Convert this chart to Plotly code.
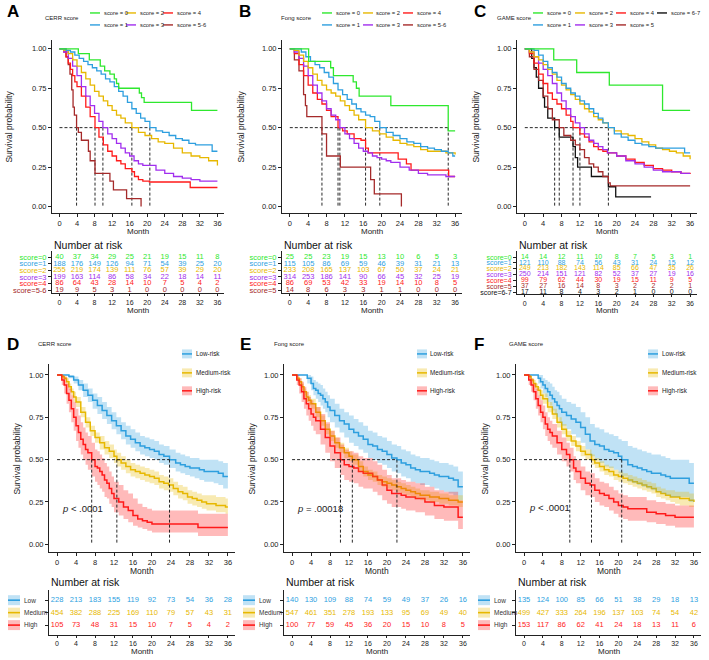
import plotly.graph_objects as go

W, H = 709, 660
FONT = "Liberation Sans, Arial, sans-serif"
MONTHS = [0, 4, 8, 12, 16, 20, 24, 28, 32, 36]

GREEN = "#2EE82E"
BLUE = "#2E9FDF"
ORANGE = "#E7B800"
PURPLE = "#A12EEE"
RED = "#FF1A1A"
BROWN = "#A52A2A"
BLACK = "#111111"

# ---------------- A: CERR score (step points: month, survival) ----------------
cerr0_t = [0, 4.3, 6.8, 9.3, 10.3, 11.5, 12.5, 13.0, 13.5, 18.2, 18.7, 19.3, 30.1, 36]
cerr0_s = [1, 0.97, 0.93, 0.89, 0.86, 0.84, 0.81, 0.78, 0.75, 0.72, 0.69, 0.66, 0.61, 0.61]
cerr1_t = [0, 1.5, 2.5, 3.5, 4.5, 5.5, 6.5, 7.5, 8.5, 9.5, 10.5, 11.5, 12.5, 13.5, 14.5, 15.5,
           16.5, 17.5, 18.5, 19.5, 20.6, 22, 23.5, 25, 26.5, 28, 29.5, 31, 33, 34.8, 36]
cerr1_s = [1, 0.99, 0.98, 0.96, 0.94, 0.92, 0.90, 0.88, 0.86, 0.84, 0.81, 0.79, 0.76, 0.73, 0.70,
           0.66, 0.62, 0.59, 0.56, 0.54, 0.50, 0.48, 0.47, 0.45, 0.43, 0.42, 0.40, 0.39, 0.39, 0.35, 0.35]
cerr2_t = [0, 1, 2, 3, 4, 5, 6, 7, 8, 9, 10, 11, 12, 13, 14, 15, 16.5, 18, 19.5, 21, 22.5, 24,
           26, 28, 30, 32, 34, 36]
cerr2_s = [1, 0.99, 0.97, 0.93, 0.89, 0.85, 0.81, 0.77, 0.73, 0.70, 0.67, 0.64, 0.61, 0.58, 0.56,
           0.53, 0.50, 0.47, 0.45, 0.43, 0.41, 0.40, 0.37, 0.34, 0.32, 0.31, 0.29, 0.26]
cerr3_t = [0, 1, 2, 3, 4, 5, 6, 7, 8, 9, 9.9, 11, 12, 13, 14, 15, 16, 17, 18, 19, 20, 22, 24,
           26, 28, 30, 32, 34, 36]
cerr3_s = [1, 0.98, 0.94, 0.89, 0.83, 0.76, 0.70, 0.64, 0.59, 0.54, 0.50, 0.46, 0.43, 0.40, 0.37,
           0.34, 0.32, 0.29, 0.27, 0.26, 0.26, 0.23, 0.21, 0.19, 0.18, 0.17, 0.16, 0.16, 0.16]
cerr4_t = [0, 1, 1.5, 2, 2.5, 3, 3.5, 4, 5, 6, 7, 8.1, 9, 10, 11, 12, 13, 14, 15, 16.5, 17.1,
           18, 19, 20.5, 29.8, 36]
cerr4_s = [1, 0.98, 0.95, 0.91, 0.87, 0.83, 0.79, 0.76, 0.70, 0.63, 0.57, 0.50, 0.44, 0.39, 0.35,
           0.32, 0.29, 0.27, 0.24, 0.22, 0.19, 0.17, 0.16, 0.155, 0.12, 0.12]
cerr56_t = [0, 1.5, 2.0, 2.4, 2.8, 3.1, 3.4, 3.9, 4.3, 5.0, 6.6, 7.0, 8.1, 11.5, 12.3, 15.3, 18.6]
cerr56_s = [1, 0.95, 0.90, 0.84, 0.74, 0.63, 0.58, 0.50, 0.47, 0.42, 0.35, 0.29, 0.21, 0.16, 0.105,
            0.05, 0.0]
cerr_medians = [3.9, 8.1, 9.9, 16.5, 20.6]

cerr_risk0 = [40, 37, 34, 29, 25, 21, 19, 15, 11, 8]
cerr_risk1 = [188, 176, 149, 126, 94, 71, 54, 39, 25, 20]
cerr_risk2 = [255, 219, 174, 139, 111, 76, 57, 39, 29, 20]
cerr_risk3 = [199, 163, 114, 86, 58, 34, 22, 18, 14, 11]
cerr_risk4 = [86, 64, 43, 28, 14, 10, 7, 5, 4, 2]
cerr_risk56 = [19, 9, 5, 3, 1, 0, 0, 0, 0, 0]

# ---------------- B: Fong score ----------------
fong0_t = [0, 4.1, 8.9, 9.5, 13.8, 14.5, 15.1, 22.0, 34.5, 36]
fong0_s = [1, 0.92, 0.88, 0.83, 0.79, 0.75, 0.70, 0.64, 0.48, 0.48]
fong1_t = [0, 2.5, 3.5, 4.5, 5.5, 6.5, 7.5, 8.5, 9.5, 10.5, 11.5, 12.5, 13.5, 14.5, 15.5, 16.5,
           17.5, 18.5, 19.6, 21, 22.5, 24, 25.5, 27, 28.5, 30, 31.5, 33, 34.5, 35.5, 36]
fong1_s = [1, 0.98, 0.95, 0.92, 0.90, 0.88, 0.85, 0.82, 0.78, 0.74, 0.71, 0.68, 0.65, 0.62, 0.60,
           0.58, 0.57, 0.54, 0.50, 0.47, 0.45, 0.43, 0.41, 0.40, 0.38, 0.37, 0.36, 0.35, 0.34, 0.32, 0.32]
fong2_t = [0, 1, 2, 3, 4, 5, 6, 7, 8, 9, 10, 11, 12, 13, 14, 15, 16.5, 18, 19.5, 21, 22.5, 24,
           25.5, 27, 28.5, 30, 32, 34, 36]
fong2_s = [1, 0.99, 0.96, 0.92, 0.88, 0.84, 0.80, 0.77, 0.74, 0.72, 0.70, 0.67, 0.64, 0.61, 0.58,
           0.55, 0.50, 0.48, 0.46, 0.44, 0.42, 0.40, 0.39, 0.38, 0.36, 0.35, 0.35, 0.34, 0.33]
fong3_t = [0, 1, 2, 3, 4, 5, 6, 7, 8, 9, 10, 10.9, 12, 13, 14, 15, 16, 17, 18, 19, 20, 21, 22,
           24, 26, 28, 30, 32, 34, 36]
fong3_s = [1, 0.98, 0.94, 0.89, 0.83, 0.77, 0.72, 0.67, 0.62, 0.58, 0.55, 0.50, 0.46, 0.43, 0.40,
           0.37, 0.35, 0.34, 0.32, 0.31, 0.30, 0.29, 0.28, 0.25, 0.23, 0.21, 0.20, 0.20, 0.19, 0.19]
fong4_t = [0, 1, 2, 3, 4, 5, 6, 7, 8, 9, 10.5, 11.5, 12.5, 14, 15.5, 16.5, 17.1, 23.6, 25.4,
           26.4, 34.6, 36]
fong4_s = [1, 0.97, 0.90, 0.83, 0.77, 0.72, 0.68, 0.65, 0.61, 0.57, 0.50, 0.48, 0.46, 0.43, 0.42,
           0.37, 0.34, 0.30, 0.27, 0.23, 0.19, 0.19]
fong5_t = [0, 1.0, 2.0, 3.0, 3.4, 3.7, 7.0, 8.0, 11.0, 17.6, 18.4, 24.3]
fong5_s = [1, 0.93, 0.86, 0.71, 0.64, 0.57, 0.46, 0.32, 0.25, 0.17, 0.08, 0.0]
fong_medians = [7.0, 10.5, 10.9, 16.5, 19.6, 34.5]

fong_risk0 = [25, 25, 23, 19, 15, 13, 10, 6, 5, 3]
fong_risk1 = [115, 105, 86, 69, 59, 46, 39, 31, 21, 13]
fong_risk2 = [233, 208, 165, 137, 103, 67, 50, 37, 24, 21]
fong_risk3 = [314, 253, 186, 141, 90, 66, 45, 32, 25, 19]
fong_risk4 = [86, 69, 53, 42, 33, 19, 14, 10, 8, 5]
fong_risk5 = [14, 8, 6, 3, 3, 1, 1, 0, 0, 0]

# ---------------- C: GAME score ----------------
game0_t = [0, 6.3, 11.3, 18.4, 30.0, 36]
game0_s = [1, 0.93, 0.85, 0.77, 0.61, 0.61]
game1_t = [0, 2, 3, 4, 5, 6, 7, 8, 9, 10, 11, 12, 13, 14, 15, 16, 17, 18.2, 19.5, 21, 22.5, 24,
           25.5, 27, 28.5, 30, 31.5, 33, 34.8, 36]
game1_s = [1, 0.99, 0.96, 0.92, 0.88, 0.85, 0.82, 0.78, 0.75, 0.72, 0.70, 0.67, 0.65, 0.62, 0.59,
           0.56, 0.53, 0.50, 0.46, 0.44, 0.42, 0.40, 0.39, 0.38, 0.37, 0.37, 0.37, 0.37, 0.34, 0.34]
game2_t = [0, 1, 2, 3, 4, 5, 6, 7, 8, 9, 10, 11, 12, 13, 14, 15, 16, 17, 18.2, 19.5, 21, 22.5,
           24, 25.5, 27, 28.5, 30, 31.5, 33, 34.5, 36]
game2_s = [1, 0.98, 0.95, 0.93, 0.90, 0.87, 0.84, 0.80, 0.77, 0.74, 0.71, 0.68, 0.65, 0.62, 0.60,
           0.57, 0.55, 0.53, 0.50, 0.48, 0.46, 0.45, 0.43, 0.41, 0.39, 0.37, 0.36, 0.35, 0.34, 0.32, 0.30]
game3_t = [0, 1, 2, 3, 4, 5, 6, 7, 8, 9, 10, 11, 12, 13, 14, 15, 16, 17, 18, 20, 22, 24, 26, 28,
           30, 32, 34, 36]
game3_s = [1, 0.98, 0.95, 0.91, 0.87, 0.83, 0.78, 0.72, 0.67, 0.62, 0.57, 0.53, 0.50, 0.46, 0.42,
           0.40, 0.38, 0.36, 0.34, 0.32, 0.29, 0.27, 0.25, 0.23, 0.22, 0.22, 0.21, 0.21]
game4_t = [0, 1, 2, 3, 4, 5, 6, 7, 8, 9, 10, 10.5, 12, 13, 14, 15, 16, 17, 18, 20, 22, 24, 26,
           28, 30, 32, 34, 36]
game4_s = [1, 0.97, 0.91, 0.84, 0.78, 0.72, 0.68, 0.65, 0.62, 0.58, 0.54, 0.50, 0.46, 0.44, 0.41,
           0.38, 0.36, 0.35, 0.34, 0.32, 0.30, 0.28, 0.26, 0.24, 0.23, 0.22, 0.21, 0.205]
game5_t = [0, 1, 2, 3, 4, 5, 6, 7.5, 8.5, 10, 11, 12, 13, 14, 15, 16, 17, 18.2, 18.6, 36]
game5_s = [1, 0.95, 0.87, 0.80, 0.70, 0.62, 0.55, 0.50, 0.45, 0.42, 0.39, 0.36, 0.31, 0.27, 0.25,
           0.22, 0.19, 0.15, 0.13, 0.13]
game67_t = [0, 1.5, 2.0, 2.5, 3.0, 4.0, 4.3, 5.0, 6.5, 7.5, 10.5, 11.0, 11.5, 14.5, 18.2, 19.8, 27.5]
game67_s = [1, 0.94, 0.88, 0.82, 0.75, 0.69, 0.63, 0.56, 0.50, 0.44, 0.38, 0.31, 0.25, 0.19, 0.125,
            0.06, 0.06]
game_medians = [6.5, 7.5, 10.5, 12.0, 18.2]

game_risk0 = [14, 14, 12, 11, 10, 8, 7, 5, 3, 1]
game_risk1 = [121, 110, 88, 74, 56, 43, 31, 24, 15, 12]
game_risk2 = [249, 213, 182, 143, 114, 85, 66, 47, 35, 26]
game_risk3 = [250, 214, 151, 121, 82, 52, 37, 27, 19, 16]
game_risk4 = [99, 79, 62, 44, 30, 19, 15, 11, 9, 5]
game_risk5 = [37, 27, 16, 14, 8, 3, 2, 2, 2, 1]
game_risk67 = [17, 11, 8, 4, 3, 2, 1, 0, 0, 0]

# ---------------- D: CERR risk groups (step, lower CI, upper CI) ----------------
d_low_t = [0, 2.5, 3.5, 4.5, 5.5, 6.5, 7.5, 8.5, 9.5, 10.5, 11.5, 12.5, 13.5, 14.5, 15.5, 16.5,
           17.5, 18.5, 19.5, 20.5, 21.5, 22.5, 23.7, 25, 26, 27, 28, 29, 30, 31, 32, 33, 34, 35, 36]
d_low_s = [1, 0.99, 0.97, 0.94, 0.91, 0.88, 0.85, 0.82, 0.79, 0.76, 0.73, 0.70, 0.67, 0.64, 0.62,
           0.60, 0.58, 0.57, 0.56, 0.55, 0.53, 0.52, 0.50, 0.48, 0.47, 0.46, 0.45, 0.45, 0.44, 0.43,
           0.43, 0.43, 0.42, 0.40, 0.40]
d_low_lo = [1, 0.98, 0.95, 0.91, 0.87, 0.84, 0.80, 0.77, 0.74, 0.71, 0.68, 0.65, 0.62, 0.59, 0.57,
            0.55, 0.53, 0.52, 0.51, 0.50, 0.48, 0.47, 0.45, 0.43, 0.42, 0.41, 0.40, 0.39, 0.38, 0.37,
            0.37, 0.36, 0.35, 0.33, 0.33]
d_low_hi = [1, 1.0, 0.99, 0.97, 0.95, 0.92, 0.89, 0.87, 0.84, 0.81, 0.78, 0.75, 0.72, 0.70, 0.68,
            0.66, 0.64, 0.63, 0.62, 0.61, 0.59, 0.58, 0.56, 0.54, 0.53, 0.52, 0.51, 0.51, 0.50, 0.50,
            0.50, 0.50, 0.49, 0.48, 0.48]
d_med_t = [0, 1, 1.5, 2, 2.5, 3, 3.5, 4, 5, 6, 7, 8, 9, 10, 11, 12, 12.6, 13.5, 14.5, 15.5, 16.5,
           17.5, 18.5, 19.5, 20.5, 21.5, 22.5, 23.5, 24.5, 25.5, 26.5, 27.5, 28.5, 29.5, 30.5, 31.5,
           32.5, 33.5, 34.5, 35.5, 36]
d_med_s = [1, 0.99, 0.98, 0.96, 0.93, 0.90, 0.87, 0.84, 0.78, 0.72, 0.67, 0.63, 0.60, 0.57, 0.55,
           0.52, 0.50, 0.48, 0.46, 0.44, 0.43, 0.42, 0.41, 0.40, 0.39, 0.37, 0.36, 0.35, 0.33, 0.31,
           0.30, 0.28, 0.27, 0.26, 0.25, 0.24, 0.24, 0.23, 0.23, 0.22, 0.22]
d_med_lo = [1, 0.98, 0.97, 0.94, 0.91, 0.88, 0.84, 0.81, 0.75, 0.69, 0.64, 0.60, 0.56, 0.53, 0.51,
            0.48, 0.46, 0.44, 0.42, 0.40, 0.39, 0.38, 0.37, 0.36, 0.35, 0.33, 0.32, 0.31, 0.29, 0.27,
            0.26, 0.24, 0.23, 0.22, 0.21, 0.20, 0.20, 0.19, 0.19, 0.18, 0.18]
d_med_hi = [1, 1.0, 0.99, 0.98, 0.95, 0.92, 0.90, 0.87, 0.81, 0.75, 0.70, 0.66, 0.64, 0.61, 0.59,
            0.56, 0.54, 0.52, 0.50, 0.48, 0.47, 0.46, 0.45, 0.44, 0.43, 0.41, 0.40, 0.39, 0.37, 0.35,
            0.34, 0.32, 0.31, 0.30, 0.29, 0.29, 0.29, 0.28, 0.28, 0.27, 0.27]
d_high_t = [0, 1, 1.5, 2, 2.5, 3, 3.5, 4, 4.5, 5, 5.5, 6, 6.5, 7.3, 8, 8.5, 9, 9.5, 10, 10.5, 11,
            11.5, 12, 13, 14, 15, 16, 17, 18, 19, 20, 29.7, 36]
d_high_s = [1, 0.97, 0.94, 0.89, 0.85, 0.80, 0.75, 0.70, 0.66, 0.62, 0.59, 0.56, 0.54, 0.50, 0.46,
            0.45, 0.43, 0.41, 0.38, 0.36, 0.33, 0.30, 0.27, 0.25, 0.22, 0.20, 0.17, 0.15, 0.14, 0.13,
            0.12, 0.10, 0.10]
d_high_lo = [1, 0.94, 0.89, 0.83, 0.78, 0.72, 0.67, 0.61, 0.57, 0.53, 0.50, 0.47, 0.44, 0.40, 0.37,
             0.35, 0.33, 0.31, 0.28, 0.27, 0.24, 0.22, 0.19, 0.17, 0.15, 0.13, 0.11, 0.10, 0.09, 0.08,
             0.07, 0.05, 0.05]
d_high_hi = [1, 1.0, 0.99, 0.95, 0.92, 0.88, 0.84, 0.80, 0.76, 0.72, 0.69, 0.66, 0.64, 0.60, 0.56,
             0.55, 0.53, 0.51, 0.48, 0.46, 0.43, 0.40, 0.37, 0.35, 0.32, 0.30, 0.27, 0.24, 0.22, 0.21,
             0.20, 0.18, 0.18]
d_medians = [7.3, 12.6, 23.7]
d_risk_low = [228, 213, 183, 155, 119, 92, 73, 54, 36, 28]
d_risk_med = [454, 382, 288, 225, 169, 110, 79, 57, 43, 31]
d_risk_high = [105, 73, 48, 31, 15, 10, 7, 5, 4, 2]

# ---------------- E: Fong risk groups ----------------
e_low_t = [0, 3.2, 4, 4.5, 5, 5.5, 6, 6.5, 7, 7.5, 8, 9, 10, 11, 12, 13, 14, 15, 16, 17, 18, 19,
           20, 21, 22.1, 23, 24, 25, 26, 27, 28, 29, 30, 31, 32, 33, 34, 35, 36]
e_low_s = [1, 0.98, 0.95, 0.92, 0.91, 0.89, 0.88, 0.86, 0.84, 0.81, 0.79, 0.76, 0.73, 0.71, 0.68,
           0.66, 0.64, 0.62, 0.59, 0.58, 0.56, 0.55, 0.53, 0.51, 0.50, 0.48, 0.47, 0.45, 0.44, 0.43,
           0.43, 0.42, 0.41, 0.40, 0.40, 0.39, 0.38, 0.34, 0.34]
e_low_lo = [1, 0.95, 0.91, 0.88, 0.86, 0.84, 0.82, 0.80, 0.78, 0.75, 0.72, 0.69, 0.66, 0.63, 0.60,
            0.58, 0.56, 0.54, 0.51, 0.50, 0.48, 0.47, 0.45, 0.43, 0.42, 0.40, 0.39, 0.37, 0.36, 0.35,
            0.35, 0.34, 0.33, 0.32, 0.31, 0.30, 0.29, 0.26, 0.26]
e_low_hi = [1, 1.0, 0.99, 0.97, 0.96, 0.95, 0.94, 0.92, 0.90, 0.88, 0.86, 0.83, 0.80, 0.78, 0.76,
            0.74, 0.72, 0.70, 0.67, 0.66, 0.64, 0.63, 0.61, 0.59, 0.58, 0.56, 0.55, 0.53, 0.52, 0.51,
            0.51, 0.50, 0.49, 0.48, 0.48, 0.47, 0.46, 0.43, 0.43]
e_med_t = [0, 1, 1.5, 2, 2.5, 3, 3.5, 4, 5, 6, 7, 8, 9, 10, 11, 12, 12.7, 14, 15, 16, 17, 18, 19,
           20, 21, 22, 23, 24, 25, 26, 27, 28, 29, 30, 31, 32, 33, 34, 35, 36]
e_med_s = [1, 0.98, 0.96, 0.93, 0.90, 0.87, 0.85, 0.83, 0.78, 0.73, 0.68, 0.64, 0.60, 0.57, 0.54,
           0.52, 0.50, 0.46, 0.43, 0.41, 0.40, 0.38, 0.37, 0.36, 0.35, 0.34, 0.33, 0.32, 0.31, 0.30,
           0.29, 0.29, 0.28, 0.28, 0.27, 0.27, 0.26, 0.26, 0.25, 0.25]
e_med_lo = [1, 0.97, 0.94, 0.91, 0.88, 0.84, 0.82, 0.80, 0.75, 0.70, 0.65, 0.61, 0.57, 0.54, 0.51,
            0.49, 0.47, 0.43, 0.40, 0.38, 0.37, 0.35, 0.34, 0.33, 0.32, 0.31, 0.30, 0.29, 0.28, 0.27,
            0.26, 0.26, 0.25, 0.25, 0.24, 0.24, 0.23, 0.23, 0.22, 0.22]
e_med_hi = [1, 0.99, 0.98, 0.95, 0.92, 0.90, 0.88, 0.86, 0.81, 0.76, 0.71, 0.67, 0.63, 0.60, 0.57,
            0.55, 0.53, 0.49, 0.46, 0.44, 0.43, 0.41, 0.40, 0.39, 0.38, 0.37, 0.36, 0.35, 0.34, 0.33,
            0.32, 0.32, 0.31, 0.31, 0.30, 0.30, 0.29, 0.29, 0.29, 0.29]
e_high_t = [0, 1, 1.5, 2, 2.5, 3, 3.5, 4, 4.5, 5, 6, 7, 8, 9, 10.2, 11, 12, 13, 14, 15, 16, 17,
            18, 19, 20, 21, 22, 23, 24, 26, 28, 30, 32, 34, 35, 36]
e_high_s = [1, 0.97, 0.94, 0.90, 0.86, 0.83, 0.80, 0.77, 0.75, 0.73, 0.68, 0.63, 0.58, 0.54, 0.50,
            0.47, 0.46, 0.45, 0.43, 0.42, 0.42, 0.40, 0.38, 0.35, 0.32, 0.30, 0.30, 0.29, 0.28, 0.27,
            0.25, 0.23, 0.22, 0.22, 0.16, 0.16]
e_high_lo = [1, 0.94, 0.89, 0.84, 0.80, 0.76, 0.73, 0.70, 0.67, 0.65, 0.59, 0.54, 0.49, 0.45, 0.41,
             0.38, 0.37, 0.36, 0.34, 0.33, 0.33, 0.31, 0.29, 0.26, 0.24, 0.22, 0.22, 0.21, 0.20, 0.19,
             0.17, 0.15, 0.14, 0.14, 0.09, 0.09]
e_high_hi = [1, 1.0, 0.98, 0.96, 0.93, 0.90, 0.87, 0.85, 0.83, 0.81, 0.77, 0.72, 0.67, 0.63, 0.59,
             0.56, 0.55, 0.54, 0.52, 0.51, 0.51, 0.49, 0.47, 0.44, 0.41, 0.39, 0.39, 0.38, 0.37, 0.36,
             0.34, 0.32, 0.31, 0.31, 0.26, 0.26]
e_medians = [10.2, 12.7, 22.1]
e_risk_low = [140, 130, 109, 88, 74, 59, 49, 37, 26, 16]
e_risk_med = [547, 461, 351, 278, 193, 133, 95, 69, 49, 40]
e_risk_high = [100, 77, 59, 45, 36, 20, 15, 10, 8, 5]

# ---------------- F: GAME risk groups ----------------
f_low_t = [0, 3.0, 3.5, 4, 4.5, 5, 5.5, 6, 6.5, 7, 7.5, 8, 9, 10, 11, 12, 13, 14, 15, 16, 17, 18,
           19, 20, 20.7, 22, 23, 24, 25, 26, 27, 28, 29, 30, 31, 32, 33, 34, 35, 36]
f_low_s = [1, 0.98, 0.96, 0.94, 0.92, 0.90, 0.88, 0.86, 0.84, 0.82, 0.80, 0.78, 0.76, 0.74, 0.72,
           0.69, 0.65, 0.61, 0.59, 0.58, 0.56, 0.55, 0.54, 0.52, 0.50, 0.47, 0.46, 0.45, 0.44, 0.43,
           0.42, 0.42, 0.41, 0.40, 0.39, 0.39, 0.39, 0.39, 0.36, 0.36]
f_low_lo = [1, 0.95, 0.92, 0.89, 0.87, 0.84, 0.82, 0.79, 0.77, 0.75, 0.72, 0.70, 0.68, 0.65, 0.63,
            0.60, 0.56, 0.52, 0.50, 0.48, 0.46, 0.45, 0.44, 0.42, 0.40, 0.37, 0.36, 0.35, 0.34, 0.33,
            0.32, 0.31, 0.30, 0.29, 0.28, 0.28, 0.28, 0.28, 0.25, 0.25]
f_low_hi = [1, 1.0, 1.0, 0.98, 0.97, 0.96, 0.95, 0.93, 0.91, 0.90, 0.88, 0.86, 0.84, 0.83, 0.81,
            0.78, 0.75, 0.71, 0.69, 0.68, 0.66, 0.65, 0.64, 0.62, 0.61, 0.58, 0.57, 0.56, 0.55, 0.54,
            0.53, 0.53, 0.52, 0.51, 0.50, 0.50, 0.50, 0.50, 0.48, 0.48]
f_med_t = [0, 1, 1.5, 2, 2.5, 3, 3.5, 4, 5, 6, 7, 8, 9, 10, 11, 12, 13, 14.3, 15, 16, 17, 18, 19,
           20, 21, 22, 23, 24, 25, 26, 27, 28, 29, 30, 31, 32, 33, 34, 35, 36]
f_med_s = [1, 0.99, 0.97, 0.95, 0.93, 0.91, 0.88, 0.86, 0.81, 0.77, 0.72, 0.68, 0.64, 0.61, 0.58,
           0.55, 0.53, 0.50, 0.48, 0.46, 0.44, 0.43, 0.41, 0.40, 0.39, 0.38, 0.37, 0.36, 0.35, 0.34,
           0.33, 0.31, 0.30, 0.29, 0.28, 0.28, 0.27, 0.27, 0.26, 0.25]
f_med_lo = [1, 0.98, 0.96, 0.93, 0.91, 0.88, 0.85, 0.83, 0.78, 0.74, 0.69, 0.65, 0.61, 0.58, 0.55,
            0.52, 0.50, 0.47, 0.45, 0.43, 0.41, 0.40, 0.38, 0.37, 0.36, 0.35, 0.34, 0.33, 0.32, 0.31,
            0.30, 0.28, 0.27, 0.26, 0.25, 0.24, 0.23, 0.23, 0.22, 0.21]
f_med_hi = [1, 1.0, 0.98, 0.97, 0.95, 0.93, 0.91, 0.89, 0.84, 0.80, 0.75, 0.71, 0.67, 0.64, 0.61,
            0.58, 0.56, 0.53, 0.51, 0.49, 0.47, 0.46, 0.44, 0.43, 0.42, 0.41, 0.40, 0.39, 0.38, 0.37,
            0.36, 0.34, 0.33, 0.32, 0.32, 0.31, 0.31, 0.31, 0.30, 0.30]
f_high_t = [0, 1, 1.5, 2, 2.5, 3, 3.5, 4, 4.5, 5, 5.5, 6, 7, 8, 9, 9.7, 10.5, 11, 12, 13, 14, 15,
            16, 17, 18, 19, 20, 21, 22, 24, 26, 28, 30, 32, 36]
f_high_s = [1, 0.97, 0.94, 0.90, 0.86, 0.82, 0.78, 0.75, 0.71, 0.68, 0.66, 0.64, 0.60, 0.56, 0.53,
            0.50, 0.45, 0.43, 0.39, 0.36, 0.35, 0.32, 0.30, 0.29, 0.27, 0.25, 0.23, 0.22, 0.21, 0.21,
            0.19, 0.18, 0.17, 0.16, 0.16]
f_high_lo = [1, 0.94, 0.90, 0.85, 0.80, 0.76, 0.72, 0.68, 0.64, 0.61, 0.59, 0.57, 0.53, 0.49, 0.46,
             0.43, 0.38, 0.36, 0.32, 0.29, 0.28, 0.25, 0.23, 0.22, 0.20, 0.18, 0.16, 0.15, 0.14, 0.14,
             0.13, 0.12, 0.11, 0.10, 0.10]
f_high_hi = [1, 1.0, 0.98, 0.95, 0.92, 0.88, 0.85, 0.82, 0.78, 0.75, 0.73, 0.71, 0.67, 0.63, 0.60,
             0.57, 0.52, 0.50, 0.46, 0.43, 0.42, 0.39, 0.37, 0.36, 0.34, 0.32, 0.30, 0.29, 0.28, 0.28,
             0.26, 0.25, 0.24, 0.23, 0.23]
f_medians = [9.7, 14.3, 20.7]
f_risk_low = [135, 124, 100, 85, 66, 51, 38, 29, 18, 13]
f_risk_med = [499, 427, 333, 264, 196, 137, 103, 74, 54, 42]
f_risk_high = [153, 117, 86, 62, 41, 24, 18, 13, 11, 6]


def px(x):
    return x / W


def py(y):
    return 1 - y / H


def ax_name(n, kind):
    return kind if n == 1 else f"{kind}{n}"


def rgba(hex_color, a):
    h = hex_color.lstrip("#")
    return f"rgba({int(h[0:2], 16)},{int(h[2:4], 16)},{int(h[4:6], 16)},{a})"


fig = go.Figure()
annotations = []
shapes = []


def text(x, y, s, size, color="#222222", xanchor="center", angle=0, bold=False, xref="paper", yref="paper"):
    if bold:
        s = f"<b>{s}</b>"
    annotations.append(dict(x=x, y=y, xref=xref, yref=yref, text=s, showarrow=False,
                            xanchor=xanchor, yanchor="middle", textangle=angle,
                            font=dict(size=size, color=color, family=FONT)))


def set_axes(n, xdom, ydom, yrange, ytickvals, yticktext, xticklen=3, xtickfont=7.5, ytickfont=7.5):
    common = dict(showline=True, linecolor="#222222", linewidth=1, ticks="outside", ticklen=3,
                  tickcolor="#222222", showgrid=False, zeroline=False,
                  tickfont=dict(size=7.5, color="#222222", family=FONT))
    fig.layout[ax_name(n, "xaxis")] = dict(common, domain=[px(xdom[0]), px(xdom[1])], range=[-1.7, 37.5],
                                           tickvals=MONTHS, anchor=ax_name(n, "y"))
    fig.layout[ax_name(n, "xaxis")].ticklen = xticklen
    fig.layout[ax_name(n, "xaxis")].tickfont.size = xtickfont
    fig.layout[ax_name(n, "yaxis")] = dict(common, domain=[py(ydom[1]), py(ydom[0])], range=yrange,
                                           tickvals=ytickvals, ticktext=yticktext,
                                           anchor=ax_name(n, "x"))
    fig.layout[ax_name(n, "yaxis")].tickfont.size = ytickfont


def median_lines(n, medians):
    xs, ys = [0, max(medians), None], [0.5, 0.5, None]
    for m in medians:
        xs += [m, m, None]
        ys += [0.5, 0, None]
    fig.add_trace(go.Scatter(x=xs, y=ys, mode="lines", line=dict(color="#111111", width=0.9, dash="3px,2px"),
                             xaxis=ax_name(n, "x"), yaxis=ax_name(n, "y"), showlegend=False, hoverinfo="skip"))


def risk_rows(n, rows, size=7.5):
    k = len(rows)
    for i, (label, counts, color) in enumerate(rows):
        fig.add_trace(go.Scatter(x=MONTHS, y=[k - 1 - i] * len(MONTHS), mode="text",
                                 text=[str(v) for v in counts],
                                 textfont=dict(size=size, color=color, family=FONT),
                                 xaxis=ax_name(n, "x"), yaxis=ax_name(n, "y"), showlegend=False,
                                 hoverinfo="skip", cliponaxis=False))


KM_TICKS = [0, 0.25, 0.5, 0.75, 1.0]
KM_TEXT = ["0.00", "0.25", "0.50", "0.75", "1.00"]

# ---------------- top row: A, B, C ----------------
top = [
    dict(n=1, tab=4, x=(52, 224), letter="A", letter_x=5, title="CERR score", title_x=62,
         cols=[90, 126, 163], ytitle_x=9, medians=cerr_medians,
         curves=[("score = 0", cerr0_t, cerr0_s, GREEN), ("score = 1", cerr1_t, cerr1_s, BLUE),
                 ("score = 2", cerr2_t, cerr2_s, ORANGE), ("score = 3", cerr3_t, cerr3_s, PURPLE),
                 ("score = 4", cerr4_t, cerr4_s, RED), ("score = 5-6", cerr56_t, cerr56_s, BROWN)],
         risk=[("score=0", cerr_risk0, GREEN), ("score=1", cerr_risk1, BLUE), ("score=2", cerr_risk2, ORANGE),
               ("score=3", cerr_risk3, PURPLE), ("score=4", cerr_risk4, RED), ("score=5-6", cerr_risk56, BROWN)],
         tab_y=(252, 294), tab_range=[-0.45, 5.9], tab_font=7.5),
    dict(n=2, tab=5, x=(282, 462), letter="B", letter_x=237, title="Fong score", title_x=296,
         cols=[322, 363, 403], ytitle_x=241, medians=fong_medians,
         curves=[("score = 0", fong0_t, fong0_s, GREEN), ("score = 1", fong1_t, fong1_s, BLUE),
                 ("score = 2", fong2_t, fong2_s, ORANGE), ("score = 3", fong3_t, fong3_s, PURPLE),
                 ("score = 4", fong4_t, fong4_s, RED), ("score = 5-6", fong5_t, fong5_s, BROWN)],
         risk=[("score=0", fong_risk0, GREEN), ("score=1", fong_risk1, BLUE), ("score=2", fong_risk2, ORANGE),
               ("score=3", fong_risk3, PURPLE), ("score=4", fong_risk4, RED), ("score=5", fong_risk5, BROWN)],
         tab_y=(252, 294), tab_range=[-0.45, 5.9], tab_font=7.5),
    dict(n=3, tab=6, x=(517, 697), letter="C", letter_x=472, title="GAME score", title_x=514,
         cols=[533, 575, 616, 657], ytitle_x=476, medians=game_medians,
         curves=[("score = 0", game0_t, game0_s, GREEN), ("score = 1", game1_t, game1_s, BLUE),
                 ("score = 2", game2_t, game2_s, ORANGE), ("score = 3", game3_t, game3_s, PURPLE),
                 ("score = 4", game4_t, game4_s, RED), ("score = 5", game5_t, game5_s, BROWN),
                 ("score = 6-7", game67_t, game67_s, BLACK)],
         risk=[("score=0", game_risk0, GREEN), ("score=1", game_risk1, BLUE), ("score=2", game_risk2, ORANGE),
               ("score=3", game_risk3, PURPLE), ("score=4", game_risk4, RED), ("score=5", game_risk5, BROWN),
               ("score=6-7", game_risk67, BLACK)],
         tab_y=(252, 295), tab_range=[-0.35, 7.0], tab_font=7),
]

for p in top:
    n = p["n"]
    set_axes(n, p["x"], (40, 214), [-0.044, 1.057], KM_TICKS, KM_TEXT, xticklen=2.5)
    median_lines(n, p["medians"])
    # draw curves from the best group last so green sits on top
    for name, t, s, c in reversed(p["curves"]):
        fig.add_trace(go.Scatter(x=t, y=s, mode="lines", line=dict(color=c, width=1.3, shape="hv"),
                                 xaxis=ax_name(n, "x"), yaxis=ax_name(n, "y"), showlegend=False, name=name))
    # legend (two rows)
    text(px(p["letter_x"]), py(12), p["letter"], 17, "#000000", "left", bold=True)
    text(px(p["title_x"]), py(18), p["title"], 6, "#222222")
    for i, (name, t, s, c) in enumerate(p["curves"]):
        col, row = i // 2, i % 2
        if name == "score = 6-7":
            col, row = 3, 0
        x0 = p["cols"][col]
        yy = 13 if row == 0 else 25
        shapes.append(dict(type="line", xref="paper", yref="paper", x0=px(x0), x1=px(x0 + 10),
                           y0=py(yy), y1=py(yy), line=dict(color=c, width=1.4)))
        text(px(x0 + 11.5), py(yy), name, 5.8, "#222222", "left")
    text(px(p["ytitle_x"]), py(127), "Survival probability", 8.5, "#222222", angle=-90)
    text(18, py(232.5), "Month", 8, "#222222", xref=ax_name(n, "x"))

    # risk table
    tn = p["tab"]
    k = len(p["risk"])
    ticktext = [f"<span style='color:{c}'>{lab}</span>" for lab, v, c in reversed(p["risk"])]
    set_axes(tn, p["x"], p["tab_y"], p["tab_range"], list(range(k)), ticktext, xticklen=2, xtickfont=7,
             ytickfont=p["tab_font"])
    risk_rows(tn, p["risk"], p["tab_font"])
    text(px(p["x"][0]), py(246), "Number at risk", 10.5, "#111111", "left")
    text(18, py(311), "Month", 8, "#222222", xref=ax_name(tn, "x"))

# ---------------- bottom row: D, E, F ----------------
bottom = [
    dict(n=7, tab=10, x=(49, 235), letter="D", letter_x=5, title="CERR score", title_x=36,
         leg_x=182, icon_x=8, ytitle_x=17, medians=d_medians, p_text="<i>p</i> < .0001", p_y=0.21,
         groups=[("Low", d_low_t, d_low_s, d_low_lo, d_low_hi, BLUE, d_risk_low),
                 ("Medium", d_med_t, d_med_s, d_med_lo, d_med_hi, ORANGE, d_risk_med),
                 ("High", d_high_t, d_high_s, d_high_lo, d_high_hi, RED, d_risk_high)]),
    dict(n=8, tab=11, x=(284, 470), letter="E", letter_x=238, title="Fong score", title_x=272,
         leg_x=417, icon_x=243, ytitle_x=252, medians=e_medians, p_text="<i>p</i> = .00018", p_y=0.21,
         groups=[("Low", e_low_t, e_low_s, e_low_lo, e_low_hi, BLUE, e_risk_low),
                 ("Medium", e_med_t, e_med_s, e_med_lo, e_med_hi, ORANGE, e_risk_med),
                 ("High", e_high_t, e_high_s, e_high_lo, e_high_hi, RED, e_risk_high)]),
    dict(n=9, tab=12, x=(516, 701), letter="F", letter_x=472, title="GAME score", title_x=507,
         leg_x=648, icon_x=478, ytitle_x=485, medians=f_medians, p_text="<i>p</i> < .0001", p_y=0.22,
         groups=[("Low", f_low_t, f_low_s, f_low_lo, f_low_hi, BLUE, f_risk_low),
                 ("Medium", f_med_t, f_med_s, f_med_lo, f_med_hi, ORANGE, f_risk_med),
                 ("High", f_high_t, f_high_s, f_high_lo, f_high_hi, RED, f_risk_high)]),
]

for p in bottom:
    n = p["n"]
    set_axes(n, p["x"], (365, 554), [-0.047, 1.065], KM_TICKS, KM_TEXT, xticklen=2.5)
    # survival lines first, translucent bands drawn over them (as in the original)
    for name, t, s, lo, hi, c, risk in p["groups"]:
        fig.add_trace(go.Scatter(x=t, y=s, mode="lines", line=dict(color=c, width=1.5, shape="hv"),
                                 xaxis=ax_name(n, "x"), yaxis=ax_name(n, "y"), showlegend=False,
                                 name=name + "-risk"))
    for name, t, s, lo, hi, c, risk in p["groups"]:
        fig.add_trace(go.Scatter(x=t, y=lo, mode="lines", line=dict(width=0, shape="hv"),
                                 xaxis=ax_name(n, "x"), yaxis=ax_name(n, "y"), showlegend=False,
                                 hoverinfo="skip"))
        fig.add_trace(go.Scatter(x=t, y=hi, mode="lines", line=dict(width=0, shape="hv"), fill="tonexty",
                                 fillcolor=rgba(c, 0.3), xaxis=ax_name(n, "x"), yaxis=ax_name(n, "y"),
                                 showlegend=False, hoverinfo="skip"))
    median_lines(n, p["medians"])

    text(px(p["letter_x"]), py(346), p["letter"], 17, "#000000", "left", bold=True)
    text(px(p["title_x"]), py(345), p["title"], 6, "#222222", "left")
    text(px(p["ytitle_x"]), py(460), "Survival probability", 8.5, "#222222", angle=-90)
    text(18, py(573), "Month", 8.5, "#222222", xref=ax_name(n, "x"))
    text(0.6, p["p_y"], p["p_text"], 9.5, "#222222", "left", xref=ax_name(n, "x"), yref=ax_name(n, "y"))

    for i, (name, t, s, lo, hi, c, risk) in enumerate(p["groups"]):
        ly = [355, 374, 392][i]
        x0 = p["leg_x"]
        shapes.append(dict(type="rect", xref="paper", yref="paper", x0=px(x0), x1=px(x0 + 10),
                           y0=py(ly + 4.5), y1=py(ly - 4.5), fillcolor=rgba(c, 0.3), line=dict(width=0)))
        shapes.append(dict(type="line", xref="paper", yref="paper", x0=px(x0), x1=px(x0 + 10),
                           y0=py(ly), y1=py(ly), line=dict(color=c, width=1.5)))
        text(px(x0 + 11.5), py(ly), name + "-risk", 6.3, "#222222", "left")

    # risk table
    tn = p["tab"]
    set_axes(tn, p["x"], (592, 637), [-0.8, 2.8], [0, 1, 2], ["", "", ""], xticklen=2, xtickfont=7)
    rows = [(name, risk, c) for name, t, s, lo, hi, c, risk in p["groups"]]
    risk_rows(tn, rows)
    text(px(p["x"][0]), py(584), "Number at risk", 10.5, "#111111", "left")
    text(18, py(653.5), "Month", 8, "#222222", xref=ax_name(tn, "x"))
    for i, (name, risk, c) in enumerate(rows):
        ry = [602, 614.5, 627][i]
        x0 = p["icon_x"]
        shapes.append(dict(type="rect", xref="paper", yref="paper", x0=px(x0), x1=px(x0 + 12),
                           y0=py(ry + 5), y1=py(ry - 5), fillcolor=rgba(c, 0.3), line=dict(width=0)))
        shapes.append(dict(type="line", xref="paper", yref="paper", x0=px(x0), x1=px(x0 + 12),
                           y0=py(ry), y1=py(ry), line=dict(color=c, width=1.6)))
        text(px(x0 + 14), py(ry), name, 6.5, "#333333", "left")

fig.update_layout(
    width=W, height=H,
    margin=dict(l=0, r=0, t=0, b=0),
    paper_bgcolor="white", plot_bgcolor="white",
    showlegend=False,
    font=dict(family=FONT, color="#222222"),
    annotations=annotations,
    shapes=shapes,
)

# the page body has a default 8px margin; drop it so the figure sits at the window's corner
fig.write_html("out.html", config={"displayModeBar": False},
               post_script="document.body.style.margin = '0';")
